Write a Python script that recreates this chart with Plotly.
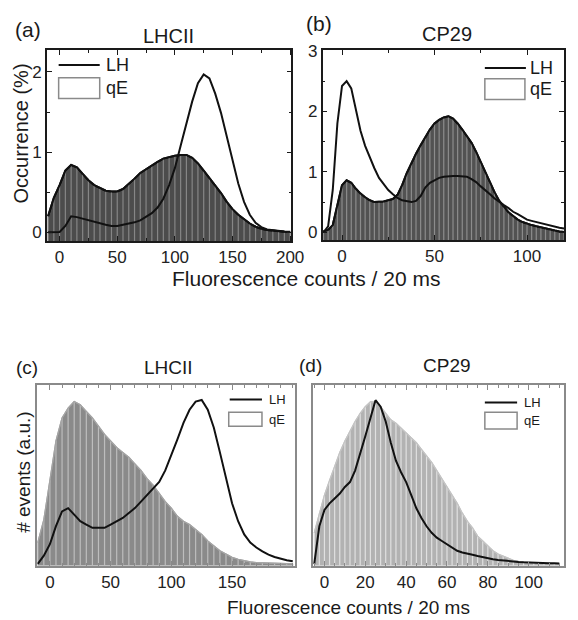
import plotly.graph_objects as go

W, H = 578, 620
FONT = "Liberation Sans, Arial, sans-serif"

# ---------------- data ----------------
# panel (a) LHCII, occurrence (%), bins of 5 counts
bins_a = [-10 + 5 * i for i in range(43)]
qE_a = [0.2, 0.43, 0.59, 0.77, 0.84, 0.81, 0.73, 0.65, 0.59, 0.55, 0.52, 0.51, 0.51, 0.54,
        0.6, 0.67, 0.74, 0.79, 0.84, 0.88, 0.92, 0.94, 0.955, 0.965, 0.965, 0.93, 0.86, 0.77,
        0.68, 0.59, 0.49, 0.38, 0.29, 0.22, 0.16, 0.11, 0.07, 0.045, 0.03, 0.02, 0.012, 0.008, 0.005]
LH_a = [0.0, 0.003, 0.005, 0.08, 0.2, 0.19, 0.17, 0.15, 0.13, 0.11, 0.095, 0.08, 0.08, 0.095,
        0.11, 0.125, 0.15, 0.19, 0.24, 0.31, 0.42, 0.59, 0.8, 1.08, 1.35, 1.63, 1.86, 1.97,
        1.92, 1.73, 1.49, 1.2, 0.9, 0.61, 0.38, 0.22, 0.12, 0.065, 0.035, 0.025, 0.016, 0.012, 0.008]

# panel (b) CP29, occurrence (%), bins of 2.5 counts
bins_b = [-10 + 2.5 * i for i in range(53)]
qE_b = [0.02, 0.04, 0.12, 0.45, 0.78, 0.86, 0.82, 0.72, 0.64, 0.58, 0.53, 0.5, 0.5, 0.51,
        0.53, 0.55, 0.62, 0.78, 0.98, 1.15, 1.3, 1.44, 1.57, 1.7, 1.8, 1.86, 1.9, 1.92,
        1.88, 1.8, 1.7, 1.6, 1.48, 1.33, 1.16, 1.0, 0.84, 0.66, 0.52, 0.42, 0.33, 0.27,
        0.21, 0.17, 0.14, 0.12, 0.1, 0.08, 0.065, 0.05, 0.03, 0.015, 0.005]
LH_b = [0.0, 0.1, 0.7, 1.8, 2.42, 2.5, 2.38, 2.05, 1.68, 1.43, 1.24, 1.06, 0.9, 0.79,
        0.7, 0.63, 0.57, 0.53, 0.51, 0.5, 0.52, 0.6, 0.74, 0.82, 0.86, 0.9, 0.92, 0.93,
        0.93, 0.93, 0.93, 0.92, 0.88, 0.83, 0.76, 0.7, 0.63, 0.56, 0.5, 0.45, 0.4, 0.34,
        0.3, 0.25, 0.21, 0.19, 0.17, 0.15, 0.13, 0.11, 0.09, 0.075, 0.065]

# panel (c) LHCII, events (a.u.), bins of 5 counts
bins_c = [-10 + 5 * i for i in range(43)]
qE_c = [0.13, 0.27, 0.51, 0.75, 0.89, 0.95, 0.99, 0.97, 0.93, 0.89, 0.84, 0.79, 0.75, 0.71,
        0.68, 0.65, 0.61, 0.57, 0.52, 0.48, 0.43, 0.38, 0.34, 0.29, 0.26, 0.24, 0.21, 0.18,
        0.14, 0.11, 0.08, 0.06, 0.04, 0.028, 0.018, 0.012, 0.008, 0.006, 0.004, 0.003, 0.002, 0.001, 0.001]
LH_c = [0.0, 0.05, 0.12, 0.23, 0.32, 0.34, 0.3, 0.26, 0.24, 0.22, 0.22, 0.22, 0.24, 0.26,
        0.28, 0.31, 0.34, 0.38, 0.42, 0.46, 0.5, 0.57, 0.66, 0.76, 0.86, 0.94, 0.99, 1.0,
        0.94, 0.83, 0.68, 0.52, 0.37, 0.26, 0.18, 0.13, 0.1, 0.076, 0.056, 0.042, 0.03, 0.022, 0.016]

# panel (d) CP29, events (a.u.), bins of 2.5 counts
bins_d = [-5 + 2.5 * i for i in range(49)]
qE_d = [0.19, 0.31, 0.42, 0.51, 0.6, 0.68, 0.75, 0.81, 0.87, 0.92, 0.96, 0.99, 0.99, 0.96,
        0.92, 0.88, 0.86, 0.83, 0.8, 0.77, 0.74, 0.7, 0.66, 0.62, 0.57, 0.52, 0.47, 0.42,
        0.37, 0.31, 0.26, 0.22, 0.17, 0.14, 0.11, 0.08, 0.06, 0.046, 0.032, 0.022, 0.016,
        0.012, 0.008, 0.006, 0.004, 0.003, 0.002, 0.001, 0.001]
LH_d = [0.0, 0.23, 0.33, 0.37, 0.4, 0.43, 0.47, 0.5, 0.57, 0.67, 0.78, 0.89, 1.0, 0.96,
        0.87, 0.74, 0.63, 0.56, 0.5, 0.42, 0.34, 0.28, 0.23, 0.19, 0.16, 0.14, 0.12, 0.1,
        0.08, 0.07, 0.065, 0.056, 0.048, 0.04, 0.034, 0.028, 0.024, 0.02, 0.016, 0.014,
        0.012, 0.01, 0.008, 0.007, 0.006, 0.005, 0.004, 0.004, 0.003]

titles = ["LHCII", "CP29", "LHCII", "CP29"]
letters = ["(a)", "(b)", "(c)", "(d)"]
xlabel = "Fluorescence counts / 20 ms"

# ---------------- layout helpers ----------------
def fx(p):
    return p / W

def fy(p):
    return 1 - p / H

panels = [
    dict(bins=bins_a, qE=qE_a, LH=LH_a, xr=[-11, 201], yr=[-0.11, 2.27],
         dom_x=[48, 298], dom_y=[43, 237], fill="#4c4c4c", stripe="#868686", edge="#111111", ew=2,
         xt=[0, 50, 100, 150, 200], xminor=25, yt=[0, 1, 2], yminor=0.5, frame="#1a1a1a"),
    dict(bins=bins_b, qE=qE_b, LH=LH_b, xr=[-10.5, 120], yr=[-0.13, 3.01],
         dom_x=[330, 577], dom_y=[43, 236], fill="#525252", stripe="#8c8c8c", edge="#111111", ew=2,
         xt=[0, 50, 100], xminor=25, yt=[0, 1, 2, 3], yminor=0.5, frame="#1a1a1a"),
    dict(bins=bins_c, qE=qE_c, LH=LH_c, xr=[-10.5, 202], yr=[-0.012, 1.092],
         dom_x=[38, 302], dom_y=[383, 567], fill="#8a8a8a", stripe="#bdbdbd", edge="#a4a4a4", ew=1.2,
         xt=[0, 50, 100, 150], xminor=10, yt=None, yminor=None, frame="#8a8a8a"),
    dict(bins=bins_d, qE=qE_d, LH=LH_d, xr=[-5.7, 117.3], yr=[-0.012, 1.094],
         dom_x=[320, 577], dom_y=[383, 567], fill="#b2b2b2", stripe="#e0e0e0", edge="#c4c4c4", ew=1.2,
         xt=[0, 20, 40, 60, 80, 100], xminor=5, yt=None, yminor=None, frame="#8a8a8a"),
]

fig = go.Figure()
layout = dict(width=W, height=H, margin=dict(l=0, r=0, t=0, b=0), showlegend=False,
              plot_bgcolor="white", paper_bgcolor="white",
              font=dict(family=FONT, color="#1a1a1a"))

for i, p in enumerate(panels):
    n = "" if i == 0 else str(i + 1)
    xa, ya = "x" + n, "y" + n
    base = p["yr"][0]
    # baseline at the bottom of the frame, then the qE histogram area filled down to it
    fig.add_trace(go.Scatter(x=p["bins"], y=[base] * len(p["bins"]), mode="lines",
                             line=dict(width=0, color=p["fill"]), xaxis=xa, yaxis=ya,
                             hoverinfo="skip"))
    fig.add_trace(go.Scatter(x=p["bins"], y=p["qE"], mode="lines", fill="tonexty",
                             fillcolor=p["fill"], line=dict(color=p["edge"], width=p["ew"]),
                             xaxis=xa, yaxis=ya, name="qE"))
    # lighter vertical histogram bins giving the striped look
    sx, sy = [], []
    for b, v in zip(p["bins"], p["qE"]):
        sx += [b, b, None]
        sy += [base, v, None]
    fig.add_trace(go.Scatter(x=sx, y=sy, mode="lines", line=dict(color=p["stripe"], width=1.2),
                             xaxis=xa, yaxis=ya, name="qE", hoverinfo="skip"))
    fig.add_trace(go.Scatter(x=p["bins"], y=p["qE"], mode="lines",
                             line=dict(color=p["edge"], width=p["ew"]),
                             xaxis=xa, yaxis=ya, name="qE"))
    fig.add_trace(go.Scatter(x=p["bins"], y=p["LH"], mode="lines",
                             line=dict(color="#111111", width=2), xaxis=xa, yaxis=ya, name="LH"))

    xk = "xaxis" + n
    yk = "yaxis" + n
    layout[xk] = dict(domain=[fx(p["dom_x"][0]), fx(p["dom_x"][1])], anchor=ya, range=p["xr"],
                      tickvals=p["xt"], ticks="inside", ticklen=5, tickcolor=p["frame"],
                      showline=True, mirror="ticks", linecolor=p["frame"], linewidth=1.5,
                      showgrid=False, zeroline=False, tickfont=dict(size=17, color="#222222"),
                      minor=dict(dtick=p["xminor"], tick0=0, ticks="inside", ticklen=3,
                                 tickcolor=p["frame"]))
    ydict = dict(domain=[fy(p["dom_y"][1]), fy(p["dom_y"][0])], anchor=xa, range=p["yr"],
                 showline=True, mirror=True, linecolor=p["frame"], linewidth=1.5,
                 showgrid=False, zeroline=False)
    if p["yt"] is not None:
        ydict.update(tickvals=p["yt"], ticks="inside", ticklen=5, tickcolor=p["frame"],
                     mirror="ticks", tickfont=dict(size=17, color="#222222"),
                     minor=dict(dtick=p["yminor"], ticks="inside", ticklen=3, tickcolor=p["frame"]))
    else:
        ydict.update(showticklabels=False, ticks="")
    layout[yk] = ydict

fig.update_layout(**layout)

# ---------------- text ----------------
def ann(text, x, y, size, xanchor="center", **kw):
    fig.add_annotation(text=text, x=fx(x), y=fy(y), xref="paper", yref="paper",
                       xanchor=xanchor, yanchor="middle", showarrow=False,
                       font=dict(family=FONT, size=size, color="#1a1a1a"), **kw)

ann(letters[0], 29, 22, 21)
ann(titles[0], 172, 28, 20)
ann(letters[1], 326, 16, 21)
ann(titles[1], 457, 26, 20)
ann(letters[2], 28, 365, 19)
ann(titles[2], 172, 365, 19)
ann(letters[3], 318, 363, 19)
ann(titles[3], 457, 363, 19)
ann(xlabel, 313, 275, 21)
ann(xlabel, 357, 609, 19)
ann("Occurrence (%)", 21, 128, 20, textangle=-90)
ann("# events (a.u.)", 24, 472, 19, textangle=-90)

# ---------------- legends ----------------
legends = [
    dict(lx=(60, 102), ly=58, bx=(60, 102), by=(71, 92), tx=106, size=18),
    dict(lx=(496, 538), ly=61, bx=(496, 537), by=(72, 93), tx=540, size=18),
    dict(lx=(235, 268), ly=398, bx=(234, 268), by=(411, 425), tx=273, size=13),
    dict(lx=(496, 529), ly=401, bx=(496, 529), by=(411, 428), tx=534, size=13),
]
for lg in legends:
    fig.add_shape(type="line", xref="paper", yref="paper", x0=fx(lg["lx"][0]), x1=fx(lg["lx"][1]),
                  y0=fy(lg["ly"]), y1=fy(lg["ly"]), line=dict(color="#111111", width=2))
    fig.add_shape(type="rect", xref="paper", yref="paper", x0=fx(lg["bx"][0]), x1=fx(lg["bx"][1]),
                  y0=fy(lg["by"][1]), y1=fy(lg["by"][0]), line=dict(color="#8a8a8a", width=1.5),
                  fillcolor="white")
    ann("LH", lg["tx"], lg["ly"], lg["size"], xanchor="left")
    ann("qE", lg["tx"], (lg["by"][0] + lg["by"][1]) / 2, lg["size"], xanchor="left")

fig.write_html("out.html", config={"displayModeBar": False},
               post_script="document.body.style.margin='0';document.body.style.overflow='hidden';")
